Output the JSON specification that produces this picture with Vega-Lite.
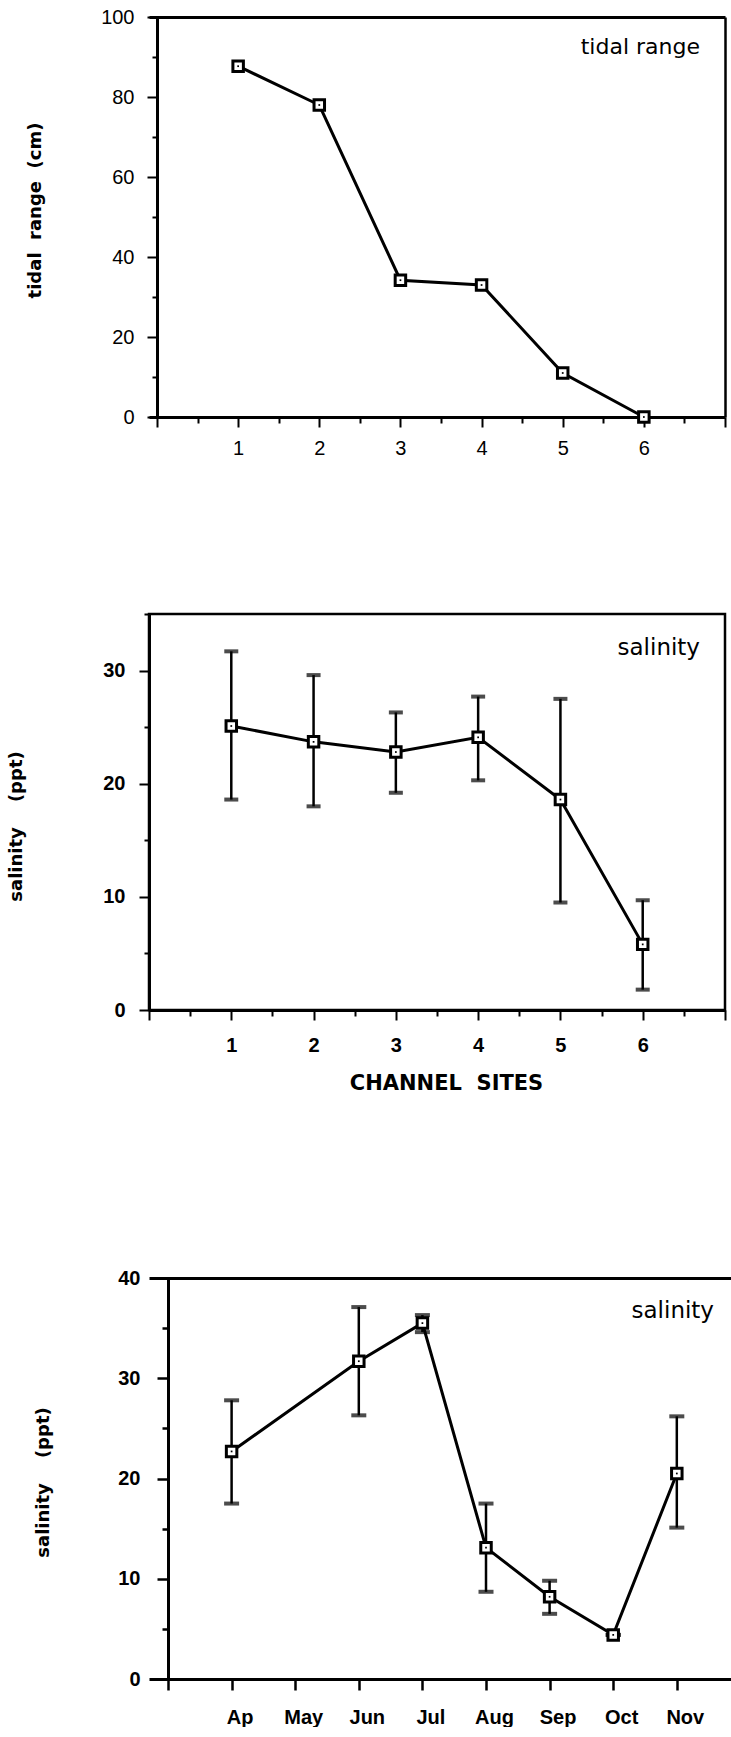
{
  "$schema": "https://vega.github.io/schema/vega-lite/v6.json",
  "background": "white",
  "padding": {"left": 5, "top": 7, "right": 0, "bottom": 0},
  "datasets": {
    "tidal": [
      {"site": 1, "range": 87.7},
      {"site": 2, "range": 78.0},
      {"site": 3, "range": 34.2},
      {"site": 4, "range": 33.0},
      {"site": 5, "range": 11.0},
      {"site": 6, "range": 0}
    ],
    "channel": [
      {"site": 1, "mean": 25.1, "lo": 18.6, "hi": 31.7},
      {"site": 2, "mean": 23.7, "lo": 18.0, "hi": 29.6},
      {"site": 3, "mean": 22.8, "lo": 19.2, "hi": 26.3},
      {"site": 4, "mean": 24.1, "lo": 20.3, "hi": 27.7},
      {"site": 5, "mean": 18.6, "lo": 9.5, "hi": 27.5},
      {"site": 6, "mean": 5.8, "lo": 1.8, "hi": 9.7}
    ],
    "monthly": [
      {"m": 1, "month": "Ap", "mean": 22.7, "lo": 17.5, "hi": 27.8},
      {"m": 3, "month": "Jun", "mean": 31.7, "lo": 26.3, "hi": 37.1},
      {"m": 4, "month": "Jul", "mean": 35.5, "lo": 34.6, "hi": 36.3},
      {"m": 5, "month": "Aug", "mean": 13.1, "lo": 8.7, "hi": 17.5},
      {"m": 6, "month": "Sep", "mean": 8.2, "lo": 6.5, "hi": 9.8},
      {"m": 7, "month": "Oct", "mean": 4.4, "lo": 4.4, "hi": 4.4},
      {"m": 8, "month": "Nov", "mean": 20.5, "lo": 15.1, "hi": 26.2}
    ],
    "label1": [{"label": "tidal range"}],
    "label2": [{"label": "salinity"}]
  },
  "columns": 1,
  "spacing": 153,
  "concat": [
    {
      "width": 576,
      "height": 400,
      "view": {"stroke": null},
      "data": {"name": "tidal"},
      "resolve": {"axis": {"x": "independent", "y": "independent"}},
      "layer": [
        {
          "mark": {"type": "line", "color": "black", "strokeWidth": 3},
          "encoding": {
            "x": {"field": "site", "type": "quantitative", "scale": {"domain": [-0.0986, 7], "nice": false},
              "axis": {"values": [0, 0.5, 1, 1.5, 2, 2.5, 3, 3.5, 4, 4.5, 5, 5.5, 6, 6.5, 7], "title": null,
                "labelExpr": "datum.value >= 1 && datum.value <= 6 && datum.value % 1 === 0 ? '' + datum.value : ''",
                "tickSize": {"condition": {"test": "datum.value % 1 === 0", "value": 10}, "value": 6},
                "tickWidth": 2, "domainWidth": 3, "labelFontSize": 20, "labelPadding": 11, "grid": false}},
            "y": {"field": "range", "type": "quantitative", "scale": {"domain": [0, 100], "nice": false},
              "axis": {"values": [0, 10, 20, 30, 40, 50, 60, 70, 80, 90, 100], "offset": -8,
                "labelExpr": "datum.value % 20 === 0 ? '' + datum.value : ''",
                "tickSize": {"condition": {"test": "datum.value % 20 === 0", "value": 10}, "value": 5},
                "tickWidth": 2, "domainWidth": 3, "labelFontSize": 20, "labelPadding": 13, "grid": false,
                "title": "tidal\u00a0\u00a0range\u00a0\u00a0(cm)", "titleFont": "DejaVu Sans", "titleFontSize": 18, "titleFontWeight": "bold",
                "titleX": -113, "titleY": 193}}
          }
        },
        {
          "mark": {"type": "point", "shape": "square", "size": 110, "filled": true, "fill": "white", "stroke": "black", "strokeWidth": 3, "opacity": 1},
          "encoding": {
            "x": {"field": "site", "type": "quantitative",
              "axis": {"orient": "top", "labels": false, "ticks": false, "domain": true, "domainWidth": 3, "title": null, "grid": false}},
            "y": {"field": "range", "type": "quantitative",
              "axis": {"orient": "right", "labels": false, "ticks": false, "domain": true, "domainWidth": 2.5, "title": null, "grid": false}}
          }
        },
        {
          "mark": {"type": "point", "shape": "square", "size": 3, "filled": true, "color": "black", "opacity": 1},
          "encoding": {
            "x": {"field": "site", "type": "quantitative", "axis": null},
            "y": {"field": "range", "type": "quantitative", "axis": null}
          }
        },
        {
          "data": {"name": "label1"},
          "mark": {"type": "text", "align": "right", "baseline": "alphabetic", "dx": -25, "dy": 37, "font": "DejaVu Sans", "fontSize": 22, "color": "black"},
          "encoding": {
            "x": {"datum": 7, "type": "quantitative", "axis": null},
            "y": {"datum": 100, "type": "quantitative", "axis": null},
            "text": {"field": "label"}
          }
        }
      ]
    },
    {
      "columns": 1,
      "spacing": 173,
      "concat": [
        {
          "width": 576,
          "height": 396,
          "view": {"stroke": "black", "strokeWidth": 2.5},
          "data": {"name": "channel"},
          "layer": [
            {
              "mark": {"type": "line", "color": "black", "strokeWidth": 3},
              "encoding": {
                "x": {"field": "site", "type": "quantitative", "scale": {"domain": [0, 7], "nice": false},
                  "axis": {"values": [0, 0.5, 1, 1.5, 2, 2.5, 3, 3.5, 4, 4.5, 5, 5.5, 6, 6.5, 7],
                    "labelExpr": "datum.value >= 1 && datum.value <= 6 && datum.value % 1 === 0 ? '' + datum.value : ''",
                    "tickSize": {"condition": {"test": "datum.value % 1 === 0", "value": 10}, "value": 6},
                    "tickWidth": 2, "domainWidth": 3, "labelFontSize": 20, "labelFontWeight": "bold", "labelPadding": 15, "grid": false,
                    "title": "CHANNEL\u00a0\u00a0SITES", "titleFont": "DejaVu Sans", "titleFontSize": 21, "titleFontWeight": "bold",
                    "titleX": 297, "titleY": 79, "titleBaseline": "alphabetic"}},
                "y": {"field": "mean", "type": "quantitative", "scale": {"domain": [0, 35], "nice": false},
                  "axis": {"values": [0, 5, 10, 15, 20, 25, 30, 35],
                    "labelExpr": "datum.value % 10 === 0 ? '' + datum.value : ''",
                    "tickSize": {"condition": {"test": "datum.value % 10 === 0", "value": 10}, "value": 5},
                    "tickWidth": 2, "domainWidth": 3, "labelFontSize": 20, "labelFontWeight": "bold", "labelPadding": 14, "grid": false,
                    "title": "salinity\u00a0\u00a0\u00a0\u00a0(ppt)", "titleFont": "DejaVu Sans", "titleFontSize": 18, "titleFontWeight": "bold",
                    "titleX": -124, "titleY": 212}}
              }
            },
            {
              "mark": {"type": "errorbar", "ticks": {"size": 14, "thickness": 4, "color": "black"}, "rule": {"strokeWidth": 2.5, "color": "black"}},
              "encoding": {
                "x": {"field": "site", "type": "quantitative", "title": "CHANNEL\u00a0\u00a0SITES"},
                "y": {"field": "lo", "type": "quantitative", "title": "salinity\u00a0\u00a0\u00a0\u00a0(ppt)"},
                "y2": {"field": "hi"}
              }
            },
            {
              "mark": {"type": "point", "shape": "square", "size": 110, "filled": true, "fill": "white", "stroke": "black", "strokeWidth": 3, "opacity": 1},
              "encoding": {
                "x": {"field": "site", "type": "quantitative"},
                "y": {"field": "mean", "type": "quantitative"}
              }
            },
            {
              "mark": {"type": "point", "shape": "square", "size": 3, "filled": true, "color": "black", "opacity": 1},
              "encoding": {
                "x": {"field": "site", "type": "quantitative"},
                "y": {"field": "mean", "type": "quantitative"}
              }
            },
            {
              "data": {"name": "label2"},
              "mark": {"type": "text", "align": "right", "baseline": "alphabetic", "dx": -25, "dy": 40.5, "font": "DejaVu Sans", "fontSize": 23, "color": "black"},
              "encoding": {
                "x": {"datum": 7, "type": "quantitative", "title": "CHANNEL\u00a0\u00a0SITES"},
                "y": {"datum": 35, "type": "quantitative", "title": "salinity\u00a0\u00a0\u00a0\u00a0(ppt)"},
                "text": {"field": "label"}
              }
            }
          ]
        },
        {
          "width": 582,
          "height": 401,
          "view": {"stroke": null},
          "data": {"name": "monthly"},
          "resolve": {"axis": {"x": "independent"}},
          "layer": [
            {
              "mark": {"type": "line", "color": "black", "strokeWidth": 3},
              "encoding": {
                "x": {"field": "m", "type": "quantitative", "scale": {"domain": [-0.2987, 8.852], "nice": false},
                  "axis": {"orient": "top", "labels": false, "ticks": false, "domain": true, "domainWidth": 3, "title": null, "grid": false}},
                "y": {"field": "mean", "type": "quantitative", "scale": {"domain": [0, 40], "nice": false},
                  "axis": {"values": [0, 5, 10, 15, 20, 25, 30, 35, 40], "offset": -19,
                    "labelExpr": "datum.value % 10 === 0 ? '' + datum.value : ''",
                    "tickSize": {"condition": {"test": "datum.value % 10 === 0", "value": 11}, "value": 6},
                    "tickWidth": 2.5, "domainWidth": 3, "labelFontSize": 20, "labelFontWeight": "bold", "labelPadding": 17, "grid": false,
                    "title": "salinity\u00a0\u00a0\u00a0\u00a0(ppt)", "titleFont": "DejaVu Sans", "titleFontSize": 18, "titleFontWeight": "bold",
                    "titleX": -116, "titleY": 204}}
              }
            },
            {
              "mark": {"type": "errorbar", "ticks": {"size": 15, "thickness": 4, "color": "black"}, "rule": {"strokeWidth": 2.5, "color": "black"}},
              "encoding": {
                "x": {"field": "m", "type": "quantitative", "axis": null},
                "y": {"field": "lo", "type": "quantitative", "title": "salinity\u00a0\u00a0\u00a0\u00a0(ppt)"},
                "y2": {"field": "hi"}
              }
            },
            {
              "mark": {"type": "point", "shape": "square", "size": 110, "filled": true, "fill": "white", "stroke": "black", "strokeWidth": 3, "opacity": 1},
              "encoding": {
                "x": {"field": "m", "type": "quantitative",
                  "axis": {"orient": "bottom", "values": [0, 1, 2, 3, 4, 5, 6, 7, 8], "title": null,
                    "labelExpr": "['', 'Ap', 'May', 'Jun', 'Jul', 'Aug', 'Sep', 'Oct', 'Nov'][datum.value]",
                    "tickSize": 11, "tickWidth": 2.5, "domainWidth": 3, "labelFontSize": 20, "labelFontWeight": "bold", "labelOffset": 8, "labelPadding": 17, "grid": false}},
                "y": {"field": "mean", "type": "quantitative"}
              }
            },
            {
              "mark": {"type": "point", "shape": "square", "size": 3, "filled": true, "color": "black", "opacity": 1},
              "encoding": {
                "x": {"field": "m", "type": "quantitative", "axis": null},
                "y": {"field": "mean", "type": "quantitative"}
              }
            },
            {
              "data": {"name": "label2"},
              "mark": {"type": "text", "align": "right", "baseline": "alphabetic", "dx": -17, "dy": 39.5, "font": "DejaVu Sans", "fontSize": 23, "color": "black"},
              "encoding": {
                "x": {"datum": 8.852, "type": "quantitative", "axis": null},
                "y": {"datum": 40, "type": "quantitative", "title": "salinity\u00a0\u00a0\u00a0\u00a0(ppt)"},
                "text": {"field": "label"}
              }
            }
          ]
        }
      ]
    }
  ],
  "config": {
    "font": "Liberation Sans",
    "axis": {"labelFont": "Liberation Sans", "labelColor": "black", "domainColor": "black", "tickColor": "black", "titleColor": "black", "grid": false}
  }
}
